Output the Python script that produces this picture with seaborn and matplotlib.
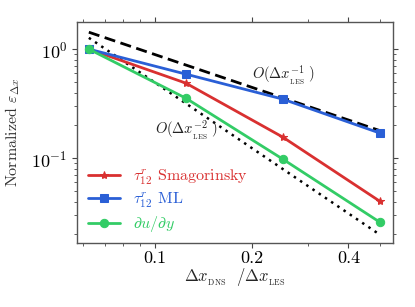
import matplotlib
matplotlib.use("Agg")
import matplotlib.pyplot as plt
import matplotlib.ticker as mticker
import seaborn as sns
import pandas as pd
import numpy as np

# data
dx_ratio = [0.0625, 0.125, 0.25, 0.5]
smag = [1.0, 0.488, 0.156, 0.0403]
ml = [1.0, 0.59, 0.348, 0.17]
dudy = [1.0, 0.355, 0.098, 0.0259]
ref1_x = [0.0625, 0.5]
ref1_y = [1.43, 0.179]
ref2_x = [0.0625, 0.5]
ref2_y = [1.27, 0.0199]
labels = [r"$\tau_{12}^{r}$ Smagorinsky", r"$\tau_{12}^{r}$ ML", r"$\partial u/\partial y$"]
colors = ["#d93030", "#2a5fd6", "#33cc66"]
markers = ["*", "s", "o"]
xticks = [0.1, 0.2, 0.4]
xticklabels = ["0.1", "0.2", "0.4"]

sns.set_style("ticks")
plt.rcParams["font.family"] = "serif"
plt.rcParams["font.serif"] = ["cmr10", "DejaVu Serif"]
plt.rcParams["mathtext.fontset"] = "cm"
plt.rcParams["axes.unicode_minus"] = False
plt.rcParams["axes.formatter.use_mathtext"] = True

fig = plt.figure(figsize=(4.15, 3.07), dpi=100)
ax = fig.add_axes([0.186, 0.208, 0.761, 0.72])

ax.set_xscale("log")
ax.set_yscale("log")

sns.lineplot(x=ref1_x, y=ref1_y, ax=ax, color="black", linestyle=(0, (4, 2)), linewidth=2.0, legend=False)
sns.lineplot(x=ref2_x, y=ref2_y, ax=ax, color="black", linestyle=(0, (1, 2)), linewidth=1.8, legend=False)

series = [smag, ml, dudy]
sizes = [6, 5.5, 6]
for vals, lab, c, m, s in zip(series, labels, colors, markers, sizes):
    df = pd.DataFrame({"x": dx_ratio, "y": vals})
    sns.lineplot(data=df, x="x", y="y", ax=ax, color=c, marker=m, markersize=s,
                 markeredgecolor=c, linewidth=2.0, label=lab)

ax.set_xlim(0.0575, 0.55)
ax.set_ylim(0.0166, 1.77)
ax.set_xticks(xticks)
ax.set_xticklabels(xticklabels)
ax.xaxis.set_minor_formatter(mticker.NullFormatter())
ax.yaxis.set_minor_formatter(mticker.NullFormatter())
ax.tick_params(which="both", direction="out", top=True, right=True, labelsize=13, colors="#444444", labelcolor="black")
ax.tick_params(which="major", length=3.5, width=0.8)
ax.tick_params(which="minor", length=2, width=0.6)
ax.tick_params(axis="x", which="major", pad=2)
for sp in ax.spines.values():
    sp.set_visible(True)
    sp.set_color("#555555")
    sp.set_linewidth(1.0)

ax.set_xlabel(r"$\Delta x_{_{\rm DNS}}\ \ /\Delta x_{_{\rm LES}}$", fontsize=12, labelpad=0)
ax.set_ylabel(r"Normalized $\varepsilon_{\Delta x}$", fontsize=11.5, color="#333333", labelpad=7)

ax.text(0.2, 0.58, r"$O(\Delta x_{_{\rm LES}}^{-1}\ )$", fontsize=10.5, color="#222222", va="center")
ax.text(0.1, 0.18, r"$O(\Delta x_{_{\rm LES}}^{-2}\ )$", fontsize=10.5, color="#222222", va="center")

leg = ax.legend(loc="lower left", frameon=False, fontsize=11.5, handlelength=2.0,
                borderaxespad=0.3, labelspacing=0.25, bbox_to_anchor=(0.0, -0.01))
for t, c in zip(leg.get_texts(), colors):
    t.set_color(c)

fig.savefig("out.png", dpi=100)
